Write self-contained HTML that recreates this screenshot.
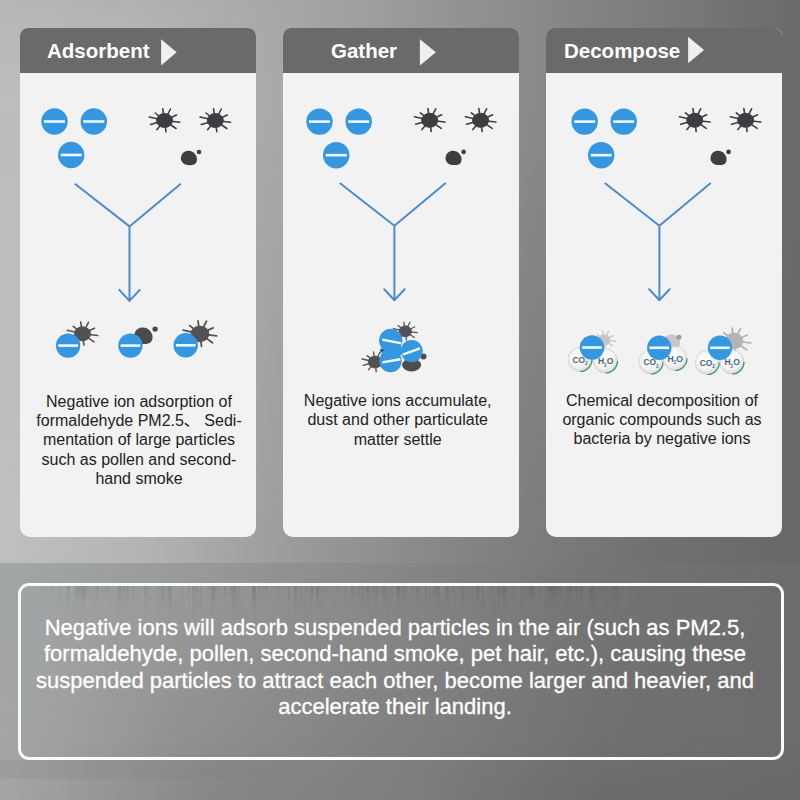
<!DOCTYPE html>
<html><head><meta charset="utf-8">
<style>
*{margin:0;padding:0;box-sizing:border-box}
html,body{width:800px;height:800px;overflow:hidden}
body{position:relative;font-family:"Liberation Sans",sans-serif;background:#888}
.bg{position:absolute;left:0;width:800px}
#bgA{top:0;height:563px;background:linear-gradient(90deg,rgb(189,189,189) 1.25%,rgb(183,183,183) 17.5%,rgb(170,170,170) 33.75%,rgb(154,154,154) 50%,rgb(138,138,138) 66.5%,rgb(123,123,123) 82.5%,rgb(107,107,107) 98.75%)}
#bgB{top:0;height:563px;background:linear-gradient(90deg,rgb(191,191,191) 1.25%,rgb(180,180,180) 17.5%,rgb(158,158,158) 33.75%,rgb(140,140,140) 50%,rgb(124,124,124) 66.5%,rgb(112,112,112) 82.5%,rgb(104,104,104) 98.75%);
-webkit-mask-image:linear-gradient(180deg,transparent 110px,#000 550px);mask-image:linear-gradient(180deg,transparent 110px,#000 550px)}
#bgC{top:563px;height:237px;background:linear-gradient(90deg,rgb(162,166,167) 1.25%,rgb(153,153,153) 25%,rgb(135,135,135) 50%,rgb(117,117,117) 75%,rgb(108,108,108) 99%)}
#bgD{top:563px;height:237px;background:linear-gradient(90deg,rgb(165,165,165) 1.25%,rgb(143,143,143) 25%,rgb(128,128,128) 50%,rgb(113,113,113) 75%,rgb(108,108,108) 99%);
-webkit-mask-image:linear-gradient(180deg,transparent 7px,#000 177px);mask-image:linear-gradient(180deg,transparent 7px,#000 177px)}
#bgE{top:740px;height:60px;background:linear-gradient(90deg,rgb(164,164,164) 1.25%,rgb(136,136,136) 25%,rgb(126,126,126) 50%,rgb(107,107,107) 75%,rgb(105,105,105) 99%);
-webkit-mask-image:linear-gradient(180deg,transparent 0,#000 50px);mask-image:linear-gradient(180deg,transparent 0,#000 50px)}
#bgT{top:0;height:100px;background:linear-gradient(90deg,rgba(0,0,0,.04),rgba(0,0,0,.03) 20%,rgba(0,0,0,0) 40%);-webkit-mask-image:linear-gradient(180deg,#000 0,rgba(0,0,0,.6) 15px,transparent 100px);mask-image:linear-gradient(180deg,#000 0,rgba(0,0,0,.6) 15px,transparent 100px)}
#bgF{top:760px;height:19px;background:linear-gradient(90deg,rgba(0,0,0,.05) 0,rgba(0,0,0,.03) 20%,rgba(0,0,0,0) 40%)}
.card{position:absolute;top:28px;width:236px;height:509px;border-radius:8px 8px 10px 10px;background:#f2f2f2;overflow:hidden}
.card .hd{height:45px;background:#6a6a6a;position:relative}
.card .hd span{position:absolute;top:0;line-height:45px;color:#fff;font-weight:bold;font-size:20.5px;padding-top:0}
.tri{position:absolute;width:0;height:0;border-top:12.5px solid transparent;border-bottom:12.5px solid transparent;border-left:16px solid #e6e6e6}
.txt{position:absolute;width:300px;text-align:center;font-size:16px;line-height:19.2px;color:#222;white-space:nowrap}
#box{position:absolute;left:18px;top:583px;width:766px;height:177px;border:3px solid #f6fdfd;border-radius:11px}
.stk{position:absolute;left:40px;top:586px;width:620px}
#btxt{position:absolute;left:-5px;top:614.8px;width:800px;text-align:center;color:#fff;font-size:22px;line-height:26.4px;-webkit-text-stroke:0.3px #fff;white-space:nowrap}
svg{position:absolute;left:0;top:0}
</style></head><body>
<div class="bg" id="bgA"></div><div class="bg" id="bgB"></div><div class="bg" id="bgC"></div><div class="bg" id="bgD"></div><div class="bg" id="bgE"></div><div class="bg" id="bgF"></div><div class="bg" id="bgT"></div>

<div class="card" style="left:20px"><div class="hd"><span style="left:27px">Adsorbent</span></div></div>
<div class="card" style="left:283px"><div class="hd"><span style="left:48px">Gather</span></div></div>
<div class="card" style="left:546px"><div class="hd"><span style="left:18px">Decompose</span></div></div>

<div class="txt" style="left:-11px;top:392px">Negative ion adsorption of<br>formaldehyde PM2.5<span style="display:inline-block;width:16px;height:10px;position:relative"><svg width="16" height="10" viewBox="0 0 16 10" style="position:absolute;left:0;top:0;overflow:visible"><path d="M1.4 7.6 L4.4 9.8" stroke="#222" stroke-width="1.6" stroke-linecap="round"/></svg></span> Sedi-<br>mentation of large particles<br>such as pollen and second-<br>hand smoke</div>
<div class="txt" style="left:247.7px;top:391.1px">Negative ions accumulate,<br>dust and other particulate<br>matter settle</div>
<div class="txt" style="left:512px;top:391px">Chemical decomposition of<br>organic compounds such as<br>bacteria by negative ions</div>

<div class="stk" style="height:14px;-webkit-mask-image:linear-gradient(180deg,#000 0,transparent 14px);mask-image:linear-gradient(180deg,#000 0,transparent 14px);background:linear-gradient(90deg,transparent 0.0px 2.9px,transparent 2.9px 6.7px,rgba(255,255,255,0.007) 6.7px 7.8px,transparent 7.8px 10.7px,rgba(0,0,0,0.013) 10.7px 12.1px,rgba(0,0,0,0.024) 12.1px 14.7px,rgba(255,255,255,0.014) 14.7px 16.4px,rgba(255,255,255,0.010) 16.4px 19.6px,rgba(0,0,0,0.031) 19.6px 21.1px,transparent 21.1px 22.1px,rgba(255,255,255,0.026) 22.1px 23.7px,rgba(255,255,255,0.027) 23.7px 27.3px,rgba(0,0,0,0.036) 27.3px 29.9px,rgba(255,255,255,0.034) 29.9px 33.8px,rgba(0,0,0,0.028) 33.8px 37.4px,rgba(0,0,0,0.067) 37.4px 38.9px,rgba(0,0,0,0.077) 38.9px 40.8px,rgba(0,0,0,0.040) 40.8px 43.9px,rgba(0,0,0,0.039) 43.9px 47.3px,rgba(0,0,0,0.073) 47.3px 49.8px,rgba(255,255,255,0.017) 49.8px 53.7px,rgba(255,255,255,0.022) 53.7px 57.2px,rgba(0,0,0,0.079) 57.2px 59.3px,rgba(255,255,255,0.044) 59.3px 60.5px,rgba(255,255,255,0.041) 60.5px 62.1px,rgba(0,0,0,0.034) 62.1px 65.9px,rgba(0,0,0,0.066) 65.9px 68.5px,rgba(255,255,255,0.032) 68.5px 71.7px,transparent 71.7px 72.8px,transparent 72.8px 74.1px,rgba(255,255,255,0.040) 74.1px 77.8px,rgba(0,0,0,0.039) 77.8px 80.5px,rgba(0,0,0,0.061) 80.5px 82.0px,transparent 82.0px 85.1px,rgba(255,255,255,0.048) 85.1px 86.6px,rgba(0,0,0,0.049) 86.6px 89.2px,transparent 89.2px 91.9px,rgba(0,0,0,0.073) 91.9px 94.3px,rgba(0,0,0,0.016) 94.3px 98.1px,rgba(255,255,255,0.015) 98.1px 101.6px,rgba(255,255,255,0.022) 101.6px 105.4px,rgba(0,0,0,0.061) 105.4px 106.7px,rgba(0,0,0,0.021) 106.7px 110.3px,transparent 110.3px 114.3px,rgba(0,0,0,0.017) 114.3px 118.2px,rgba(0,0,0,0.042) 118.2px 121.4px,rgba(0,0,0,0.031) 121.4px 123.6px,transparent 123.6px 127.6px,rgba(0,0,0,0.036) 127.6px 130.5px,rgba(255,255,255,0.022) 130.5px 131.7px,rgba(255,255,255,0.022) 131.7px 135.3px,rgba(255,255,255,0.006) 135.3px 138.6px,rgba(255,255,255,0.012) 138.6px 141.9px,rgba(255,255,255,0.020) 141.9px 143.8px,rgba(255,255,255,0.043) 143.8px 146.8px,rgba(0,0,0,0.078) 146.8px 149.8px,rgba(255,255,255,0.007) 149.8px 152.4px,transparent 152.4px 154.8px,rgba(0,0,0,0.035) 154.8px 157.8px,rgba(255,255,255,0.028) 157.8px 160.7px,transparent 160.7px 162.7px,rgba(255,255,255,0.047) 162.7px 166.4px,rgba(0,0,0,0.011) 166.4px 170.2px,transparent 170.2px 171.7px,rgba(255,255,255,0.010) 171.7px 175.5px,rgba(0,0,0,0.058) 175.5px 178.7px,rgba(255,255,255,0.007) 178.7px 182.0px,rgba(255,255,255,0.021) 182.0px 184.3px,rgba(0,0,0,0.076) 184.3px 187.2px,transparent 187.2px 188.7px,transparent 188.7px 190.3px,rgba(0,0,0,0.051) 190.3px 191.5px,rgba(0,0,0,0.039) 191.5px 192.6px,rgba(0,0,0,0.075) 192.6px 194.2px,transparent 194.2px 196.6px,rgba(255,255,255,0.037) 196.6px 199.3px,rgba(0,0,0,0.044) 199.3px 200.3px,rgba(255,255,255,0.028) 200.3px 202.6px,transparent 202.6px 204.7px,rgba(0,0,0,0.036) 204.7px 206.0px,transparent 206.0px 208.7px,rgba(255,255,255,0.026) 208.7px 212.2px,rgba(0,0,0,0.062) 212.2px 215.1px,rgba(255,255,255,0.044) 215.1px 217.9px,rgba(0,0,0,0.034) 217.9px 221.8px,rgba(0,0,0,0.066) 221.8px 225.5px,rgba(0,0,0,0.062) 225.5px 228.2px,transparent 228.2px 231.1px,rgba(0,0,0,0.051) 231.1px 233.2px,transparent 233.2px 235.1px,transparent 235.1px 237.2px,rgba(0,0,0,0.046) 237.2px 240.9px,rgba(0,0,0,0.026) 240.9px 244.9px,transparent 244.9px 246.8px,rgba(0,0,0,0.018) 246.8px 249.3px,rgba(0,0,0,0.022) 249.3px 250.7px,rgba(255,255,255,0.027) 250.7px 252.6px,rgba(0,0,0,0.044) 252.6px 253.6px,rgba(0,0,0,0.048) 253.6px 257.4px,rgba(255,255,255,0.049) 257.4px 259.2px,rgba(0,0,0,0.018) 259.2px 261.1px,rgba(255,255,255,0.017) 261.1px 264.0px,rgba(0,0,0,0.041) 264.0px 265.4px,rgba(0,0,0,0.041) 265.4px 268.0px,rgba(0,0,0,0.033) 268.0px 270.6px,rgba(0,0,0,0.075) 270.6px 273.8px,rgba(255,255,255,0.039) 273.8px 275.6px,rgba(0,0,0,0.078) 275.6px 279.2px,rgba(0,0,0,0.005) 279.2px 282.6px,rgba(0,0,0,0.017) 282.6px 285.7px,rgba(0,0,0,0.029) 285.7px 289.4px,rgba(0,0,0,0.041) 289.4px 293.0px,rgba(255,255,255,0.029) 293.0px 296.5px,rgba(0,0,0,0.043) 296.5px 299.6px,transparent 299.6px 302.9px,rgba(0,0,0,0.009) 302.9px 304.3px,rgba(0,0,0,0.060) 304.3px 306.8px,transparent 306.8px 309.6px,rgba(255,255,255,0.027) 309.6px 310.8px,rgba(0,0,0,0.077) 310.8px 314.2px,transparent 314.2px 317.3px,rgba(0,0,0,0.074) 317.3px 321.3px,transparent 321.3px 324.8px,rgba(0,0,0,0.062) 324.8px 328.7px,transparent 328.7px 330.6px,rgba(0,0,0,0.026) 330.6px 332.0px,rgba(0,0,0,0.074) 332.0px 333.5px,rgba(0,0,0,0.071) 333.5px 334.8px,rgba(255,255,255,0.017) 334.8px 336.0px,rgba(0,0,0,0.024) 336.0px 339.6px,rgba(0,0,0,0.016) 339.6px 341.6px,rgba(0,0,0,0.073) 341.6px 345.4px,transparent 345.4px 348.5px,transparent 348.5px 351.0px,rgba(0,0,0,0.046) 351.0px 353.7px,rgba(255,255,255,0.018) 353.7px 356.3px,rgba(0,0,0,0.050) 356.3px 358.9px,rgba(0,0,0,0.057) 358.9px 361.0px,rgba(0,0,0,0.069) 361.0px 364.1px,rgba(0,0,0,0.064) 364.1px 367.1px,rgba(255,255,255,0.034) 367.1px 369.9px,rgba(255,255,255,0.024) 369.9px 372.4px,rgba(0,0,0,0.073) 372.4px 373.5px,transparent 373.5px 374.9px,rgba(0,0,0,0.065) 374.9px 377.9px,rgba(255,255,255,0.027) 377.9px 381.9px,rgba(0,0,0,0.034) 381.9px 383.3px,transparent 383.3px 385.0px,rgba(0,0,0,0.062) 385.0px 387.0px,rgba(255,255,255,0.025) 387.0px 390.5px,transparent 390.5px 392.8px,rgba(0,0,0,0.005) 392.8px 395.4px,rgba(0,0,0,0.067) 395.4px 398.6px,rgba(0,0,0,0.075) 398.6px 399.7px,rgba(255,255,255,0.019) 399.7px 403.4px,rgba(255,255,255,0.036) 403.4px 404.4px,rgba(0,0,0,0.019) 404.4px 407.2px,rgba(0,0,0,0.059) 407.2px 408.5px,rgba(255,255,255,0.034) 408.5px 410.7px,rgba(0,0,0,0.044) 410.7px 412.1px,rgba(0,0,0,0.049) 412.1px 413.6px,rgba(255,255,255,0.040) 413.6px 416.0px,transparent 416.0px 418.1px,rgba(0,0,0,0.019) 418.1px 421.2px,rgba(255,255,255,0.007) 421.2px 425.0px,rgba(255,255,255,0.015) 425.0px 426.9px,rgba(0,0,0,0.077) 426.9px 428.4px,rgba(0,0,0,0.028) 428.4px 430.1px,rgba(0,0,0,0.039) 430.1px 434.0px,rgba(255,255,255,0.015) 434.0px 436.4px,rgba(0,0,0,0.049) 436.4px 439.6px,transparent 439.6px 442.6px,rgba(255,255,255,0.047) 442.6px 445.5px,rgba(255,255,255,0.021) 445.5px 446.6px,rgba(0,0,0,0.009) 446.6px 448.8px,rgba(0,0,0,0.034) 448.8px 452.8px,rgba(255,255,255,0.037) 452.8px 454.0px,transparent 454.0px 456.5px,rgba(0,0,0,0.073) 456.5px 457.7px,rgba(0,0,0,0.047) 457.7px 459.9px,rgba(0,0,0,0.073) 459.9px 462.1px,transparent 462.1px 463.2px,rgba(0,0,0,0.028) 463.2px 464.7px,rgba(0,0,0,0.039) 464.7px 467.3px,rgba(255,255,255,0.040) 467.3px 468.7px,transparent 468.7px 471.4px,rgba(0,0,0,0.010) 471.4px 473.1px,rgba(0,0,0,0.031) 473.1px 475.6px,rgba(255,255,255,0.039) 475.6px 478.4px,rgba(255,255,255,0.027) 478.4px 480.3px,rgba(0,0,0,0.039) 480.3px 482.0px,rgba(255,255,255,0.027) 482.0px 483.3px,rgba(0,0,0,0.069) 483.3px 485.2px,rgba(0,0,0,0.024) 485.2px 487.0px,rgba(0,0,0,0.072) 487.0px 489.7px,rgba(0,0,0,0.054) 489.7px 492.8px,rgba(0,0,0,0.067) 492.8px 494.6px,rgba(255,255,255,0.018) 494.6px 496.9px,transparent 496.9px 499.6px,rgba(0,0,0,0.005) 499.6px 502.5px,transparent 502.5px 504.9px,transparent 504.9px 507.8px,rgba(0,0,0,0.045) 507.8px 511.0px,rgba(0,0,0,0.063) 511.0px 514.5px,rgba(0,0,0,0.046) 514.5px 515.7px,rgba(0,0,0,0.072) 515.7px 518.7px,rgba(0,0,0,0.076) 518.7px 522.0px,rgba(0,0,0,0.034) 522.0px 523.1px,transparent 523.1px 526.7px,rgba(0,0,0,0.024) 526.7px 529.5px,rgba(0,0,0,0.078) 529.5px 531.6px,transparent 531.6px 534.4px,rgba(0,0,0,0.011) 534.4px 537.6px,rgba(0,0,0,0.022) 537.6px 539.1px,rgba(0,0,0,0.065) 539.1px 542.9px,transparent 542.9px 544.8px,rgba(0,0,0,0.021) 544.8px 547.2px,transparent 547.2px 550.5px,transparent 550.5px 553.1px,rgba(255,255,255,0.022) 553.1px 555.9px,rgba(255,255,255,0.038) 555.9px 558.2px,rgba(0,0,0,0.013) 558.2px 559.3px,rgba(0,0,0,0.039) 559.3px 562.9px,transparent 562.9px 564.7px,rgba(0,0,0,0.034) 564.7px 566.8px,rgba(255,255,255,0.032) 566.8px 568.9px,transparent 568.9px 572.4px,rgba(0,0,0,0.037) 572.4px 575.2px,rgba(0,0,0,0.042) 575.2px 578.7px,rgba(255,255,255,0.007) 578.7px 580.2px,rgba(255,255,255,0.012) 580.2px 583.9px,rgba(255,255,255,0.015) 583.9px 585.9px,transparent 585.9px 588.8px,rgba(0,0,0,0.005) 588.8px 590.9px,rgba(0,0,0,0.011) 590.9px 593.7px,rgba(0,0,0,0.013) 593.7px 595.6px,transparent 595.6px 597.8px,transparent 597.8px 600.0px,transparent 600.0px 603.4px,transparent 603.4px 606.5px,transparent 606.5px 609.9px,rgba(0,0,0,0.005) 609.9px 612.9px,transparent 612.9px 614.2px,transparent 614.2px 616.9px,transparent 616.9px 618.8px,transparent 618.8px 620.7px)"></div><div class="stk" style="height:24px;-webkit-mask-image:linear-gradient(180deg,#000 0,transparent 24px);mask-image:linear-gradient(180deg,#000 0,transparent 24px);background:linear-gradient(90deg,transparent 0.0px 3.3px,transparent 3.3px 7.1px,transparent 7.1px 10.2px,transparent 10.2px 13.4px,transparent 13.4px 15.0px,rgba(255,255,255,0.014) 15.0px 18.7px,rgba(0,0,0,0.033) 18.7px 21.4px,transparent 21.4px 23.5px,transparent 23.5px 27.2px,rgba(0,0,0,0.039) 27.2px 30.1px,transparent 30.1px 33.1px,rgba(255,255,255,0.023) 33.1px 36.3px,rgba(0,0,0,0.037) 36.3px 37.9px,transparent 37.9px 40.8px,transparent 40.8px 42.3px,rgba(0,0,0,0.063) 42.3px 45.6px,transparent 45.6px 48.3px,transparent 48.3px 51.9px,rgba(0,0,0,0.012) 51.9px 54.2px,rgba(0,0,0,0.039) 54.2px 57.9px,transparent 57.9px 60.7px,rgba(0,0,0,0.057) 60.7px 62.3px,transparent 62.3px 64.9px,transparent 64.9px 66.5px,transparent 66.5px 69.4px,rgba(0,0,0,0.017) 69.4px 72.6px,transparent 72.6px 76.1px,transparent 76.1px 78.1px,transparent 78.1px 81.0px,transparent 81.0px 82.7px,rgba(0,0,0,0.059) 82.7px 86.2px,rgba(0,0,0,0.060) 86.2px 87.8px,transparent 87.8px 89.3px,transparent 89.3px 90.6px,transparent 90.6px 93.8px,transparent 93.8px 97.2px,transparent 97.2px 101.0px,transparent 101.0px 103.8px,rgba(0,0,0,0.063) 103.8px 105.2px,rgba(0,0,0,0.020) 105.2px 106.8px,transparent 106.8px 109.8px,rgba(0,0,0,0.010) 109.8px 111.1px,transparent 111.1px 113.2px,transparent 113.2px 115.3px,transparent 115.3px 117.8px,rgba(255,255,255,0.014) 117.8px 121.6px,rgba(0,0,0,0.057) 121.6px 124.8px,rgba(255,255,255,0.011) 124.8px 127.2px,rgba(0,0,0,0.038) 127.2px 131.0px,transparent 131.0px 133.5px,transparent 133.5px 136.9px,rgba(255,255,255,0.023) 136.9px 138.7px,rgba(0,0,0,0.024) 138.7px 141.3px,transparent 141.3px 143.0px,rgba(0,0,0,0.059) 143.0px 144.2px,transparent 144.2px 146.7px,rgba(255,255,255,0.033) 146.7px 149.3px,rgba(255,255,255,0.019) 149.3px 150.6px,transparent 150.6px 151.6px,rgba(0,0,0,0.042) 151.6px 153.7px,rgba(0,0,0,0.013) 153.7px 156.0px,rgba(255,255,255,0.037) 156.0px 157.2px,rgba(0,0,0,0.061) 157.2px 159.5px,transparent 159.5px 161.4px,transparent 161.4px 164.4px,rgba(255,255,255,0.016) 164.4px 165.6px,transparent 165.6px 167.9px,transparent 167.9px 171.6px,rgba(0,0,0,0.067) 171.6px 174.5px,rgba(255,255,255,0.026) 174.5px 177.8px,transparent 177.8px 181.3px,transparent 181.3px 183.4px,transparent 183.4px 186.7px,transparent 186.7px 188.1px,transparent 188.1px 190.4px,rgba(0,0,0,0.024) 190.4px 194.4px,rgba(0,0,0,0.038) 194.4px 196.2px,rgba(0,0,0,0.051) 196.2px 199.2px,rgba(0,0,0,0.028) 199.2px 201.6px,transparent 201.6px 205.3px,rgba(255,255,255,0.021) 205.3px 206.9px,transparent 206.9px 210.7px,rgba(255,255,255,0.031) 210.7px 212.2px,rgba(0,0,0,0.050) 212.2px 216.0px,rgba(255,255,255,0.013) 216.0px 218.3px,transparent 218.3px 220.4px,transparent 220.4px 221.8px,transparent 221.8px 225.7px,transparent 225.7px 227.0px,rgba(0,0,0,0.017) 227.0px 229.1px,transparent 229.1px 231.9px,transparent 231.9px 233.6px,transparent 233.6px 235.4px,rgba(0,0,0,0.017) 235.4px 238.6px,rgba(255,255,255,0.015) 238.6px 241.7px,transparent 241.7px 244.0px,transparent 244.0px 246.8px,transparent 246.8px 248.0px,rgba(0,0,0,0.032) 248.0px 249.1px,rgba(0,0,0,0.020) 249.1px 250.1px,transparent 250.1px 253.1px,transparent 253.1px 255.2px,transparent 255.2px 258.4px,transparent 258.4px 262.2px,rgba(255,255,255,0.033) 262.2px 264.1px,rgba(255,255,255,0.011) 264.1px 265.4px,rgba(255,255,255,0.032) 265.4px 267.9px,transparent 267.9px 269.8px,rgba(0,0,0,0.031) 269.8px 273.3px,transparent 273.3px 275.8px,rgba(0,0,0,0.063) 275.8px 277.4px,rgba(0,0,0,0.054) 277.4px 278.7px,rgba(0,0,0,0.040) 278.7px 282.6px,transparent 282.6px 285.9px,transparent 285.9px 287.7px,transparent 287.7px 290.6px,rgba(255,255,255,0.026) 290.6px 292.3px,transparent 292.3px 294.7px,rgba(0,0,0,0.064) 294.7px 296.2px,transparent 296.2px 299.4px,rgba(255,255,255,0.021) 299.4px 300.4px,transparent 300.4px 302.9px,transparent 302.9px 304.0px,transparent 304.0px 305.4px,transparent 305.4px 308.2px,transparent 308.2px 309.9px,rgba(255,255,255,0.005) 309.9px 311.2px,rgba(0,0,0,0.019) 311.2px 312.5px,transparent 312.5px 315.5px,transparent 315.5px 318.6px,rgba(255,255,255,0.013) 318.6px 322.1px,rgba(0,0,0,0.070) 322.1px 323.9px,transparent 323.9px 327.2px,rgba(0,0,0,0.053) 327.2px 330.9px,rgba(255,255,255,0.034) 330.9px 332.6px,rgba(0,0,0,0.031) 332.6px 334.2px,transparent 334.2px 335.4px,rgba(0,0,0,0.055) 335.4px 338.4px,transparent 338.4px 340.8px,transparent 340.8px 343.2px,rgba(0,0,0,0.041) 343.2px 346.9px,transparent 346.9px 349.4px,transparent 349.4px 353.1px,rgba(255,255,255,0.016) 353.1px 356.1px,rgba(0,0,0,0.058) 356.1px 359.6px,rgba(255,255,255,0.028) 359.6px 361.4px,transparent 361.4px 363.2px,transparent 363.2px 366.1px,transparent 366.1px 367.4px,transparent 367.4px 369.4px,transparent 369.4px 373.0px,transparent 373.0px 374.1px,transparent 374.1px 376.3px,rgba(0,0,0,0.025) 376.3px 379.4px,rgba(0,0,0,0.063) 379.4px 381.4px,rgba(255,255,255,0.026) 381.4px 384.6px,rgba(0,0,0,0.050) 384.6px 385.8px,transparent 385.8px 389.6px,transparent 389.6px 393.3px,rgba(0,0,0,0.045) 393.3px 394.6px,transparent 394.6px 395.7px,rgba(0,0,0,0.014) 395.7px 397.6px,transparent 397.6px 401.4px,rgba(255,255,255,0.015) 401.4px 403.8px,transparent 403.8px 405.1px,transparent 405.1px 406.3px,rgba(0,0,0,0.040) 406.3px 409.0px,transparent 409.0px 411.6px,rgba(0,0,0,0.013) 411.6px 413.9px,transparent 413.9px 417.7px,rgba(255,255,255,0.019) 417.7px 421.4px,rgba(0,0,0,0.064) 421.4px 424.0px,rgba(0,0,0,0.021) 424.0px 427.8px,transparent 427.8px 431.6px,rgba(255,255,255,0.012) 431.6px 434.1px,rgba(255,255,255,0.013) 434.1px 435.8px,rgba(0,0,0,0.048) 435.8px 438.7px,transparent 438.7px 441.7px,transparent 441.7px 443.1px,rgba(0,0,0,0.060) 443.1px 444.5px,transparent 444.5px 446.8px,rgba(255,255,255,0.007) 446.8px 450.4px,transparent 450.4px 451.7px,rgba(0,0,0,0.064) 451.7px 453.4px,rgba(255,255,255,0.014) 453.4px 456.6px,transparent 456.6px 458.6px,rgba(255,255,255,0.026) 458.6px 461.5px,rgba(0,0,0,0.033) 461.5px 465.3px,rgba(0,0,0,0.024) 465.3px 468.9px,transparent 468.9px 471.2px,transparent 471.2px 472.5px,transparent 472.5px 475.8px,transparent 475.8px 476.8px,transparent 476.8px 478.8px,rgba(255,255,255,0.022) 478.8px 481.7px,rgba(255,255,255,0.011) 481.7px 484.8px,transparent 484.8px 487.3px,transparent 487.3px 490.1px,rgba(0,0,0,0.070) 490.1px 491.6px,transparent 491.6px 495.0px,rgba(0,0,0,0.011) 495.0px 498.5px,rgba(0,0,0,0.048) 498.5px 500.9px,transparent 500.9px 504.8px,transparent 504.8px 506.6px,transparent 506.6px 509.5px,rgba(0,0,0,0.069) 509.5px 511.2px,transparent 511.2px 514.2px,transparent 514.2px 517.4px,rgba(255,255,255,0.011) 517.4px 519.7px,transparent 519.7px 521.8px,rgba(255,255,255,0.005) 521.8px 525.1px,rgba(255,255,255,0.022) 525.1px 526.3px,rgba(0,0,0,0.068) 526.3px 527.7px,rgba(0,0,0,0.020) 527.7px 531.0px,transparent 531.0px 533.3px,transparent 533.3px 535.8px,transparent 535.8px 536.8px,transparent 536.8px 540.1px,transparent 540.1px 543.6px,transparent 543.6px 546.8px,rgba(255,255,255,0.025) 546.8px 549.6px,rgba(0,0,0,0.055) 549.6px 553.6px,rgba(0,0,0,0.024) 553.6px 555.6px,rgba(0,0,0,0.056) 555.6px 556.9px,rgba(255,255,255,0.008) 556.9px 559.2px,rgba(255,255,255,0.027) 559.2px 561.4px,transparent 561.4px 565.0px,rgba(0,0,0,0.014) 565.0px 566.7px,rgba(0,0,0,0.013) 566.7px 568.9px,transparent 568.9px 572.2px,transparent 572.2px 575.8px,transparent 575.8px 579.1px,transparent 579.1px 582.8px,transparent 582.8px 585.1px,transparent 585.1px 588.1px,rgba(0,0,0,0.020) 588.1px 591.2px,transparent 591.2px 593.2px,transparent 593.2px 596.5px,rgba(0,0,0,0.018) 596.5px 600.0px,rgba(0,0,0,0.014) 600.0px 602.8px,rgba(0,0,0,0.012) 602.8px 604.7px,rgba(0,0,0,0.013) 604.7px 607.0px,transparent 607.0px 609.6px,transparent 609.6px 613.1px,rgba(0,0,0,0.006) 613.1px 614.4px,transparent 614.4px 615.5px,transparent 615.5px 618.8px,transparent 618.8px 621.2px)"></div><div class="stk" style="height:38px;-webkit-mask-image:linear-gradient(180deg,#000 0,transparent 38px);mask-image:linear-gradient(180deg,#000 0,transparent 38px);background:linear-gradient(90deg,transparent 0.0px 2.8px,transparent 2.8px 4.3px,transparent 4.3px 6.7px,transparent 6.7px 8.3px,transparent 8.3px 9.6px,transparent 9.6px 11.2px,transparent 11.2px 14.0px,transparent 14.0px 16.2px,transparent 16.2px 19.8px,transparent 19.8px 21.7px,transparent 21.7px 23.1px,transparent 23.1px 24.3px,transparent 24.3px 28.1px,transparent 28.1px 29.2px,transparent 29.2px 31.6px,rgba(0,0,0,0.015) 31.6px 33.1px,transparent 33.1px 34.3px,rgba(0,0,0,0.044) 34.3px 36.0px,transparent 36.0px 37.9px,rgba(0,0,0,0.027) 37.9px 39.8px,rgba(0,0,0,0.029) 39.8px 43.6px,transparent 43.6px 45.3px,rgba(255,255,255,0.018) 45.3px 47.6px,transparent 47.6px 49.6px,transparent 49.6px 52.0px,rgba(0,0,0,0.034) 52.0px 53.2px,transparent 53.2px 55.0px,transparent 55.0px 57.5px,transparent 57.5px 60.0px,transparent 60.0px 62.7px,transparent 62.7px 65.7px,transparent 65.7px 67.9px,transparent 67.9px 69.3px,transparent 69.3px 72.9px,transparent 72.9px 75.0px,rgba(0,0,0,0.020) 75.0px 77.8px,rgba(0,0,0,0.050) 77.8px 81.0px,transparent 81.0px 84.2px,transparent 84.2px 85.4px,transparent 85.4px 87.3px,transparent 87.3px 88.4px,transparent 88.4px 89.9px,transparent 89.9px 93.0px,transparent 93.0px 96.5px,transparent 96.5px 99.4px,transparent 99.4px 100.9px,transparent 100.9px 102.9px,transparent 102.9px 104.2px,transparent 104.2px 106.3px,transparent 106.3px 110.2px,transparent 110.2px 112.3px,rgba(255,255,255,0.007) 112.3px 116.3px,transparent 116.3px 119.5px,rgba(0,0,0,0.023) 119.5px 121.3px,transparent 121.3px 125.1px,transparent 125.1px 126.9px,transparent 126.9px 129.2px,rgba(0,0,0,0.057) 129.2px 131.6px,transparent 131.6px 135.0px,transparent 135.0px 136.8px,transparent 136.8px 139.5px,transparent 139.5px 143.2px,transparent 143.2px 145.1px,rgba(255,255,255,0.024) 145.1px 148.0px,transparent 148.0px 149.1px,transparent 149.1px 150.9px,rgba(255,255,255,0.029) 150.9px 152.0px,rgba(0,0,0,0.019) 152.0px 155.4px,rgba(0,0,0,0.043) 155.4px 156.5px,transparent 156.5px 160.5px,rgba(0,0,0,0.050) 160.5px 162.2px,transparent 162.2px 166.2px,transparent 166.2px 170.0px,rgba(0,0,0,0.045) 170.0px 173.3px,rgba(0,0,0,0.044) 173.3px 175.1px,transparent 175.1px 178.3px,transparent 178.3px 179.3px,transparent 179.3px 182.9px,transparent 182.9px 186.0px,transparent 186.0px 189.8px,transparent 189.8px 191.9px,rgba(0,0,0,0.037) 191.9px 193.8px,rgba(0,0,0,0.053) 193.8px 196.1px,transparent 196.1px 197.9px,transparent 197.9px 201.8px,transparent 201.8px 205.3px,transparent 205.3px 208.0px,transparent 208.0px 210.2px,transparent 210.2px 213.1px,rgba(0,0,0,0.047) 213.1px 216.5px,transparent 216.5px 217.5px,rgba(0,0,0,0.033) 217.5px 219.2px,transparent 219.2px 220.9px,rgba(255,255,255,0.006) 220.9px 223.6px,transparent 223.6px 225.3px,transparent 225.3px 226.6px,transparent 226.6px 229.7px,transparent 229.7px 232.2px,transparent 232.2px 235.1px,rgba(0,0,0,0.018) 235.1px 236.3px,rgba(255,255,255,0.007) 236.3px 239.0px,transparent 239.0px 241.0px,transparent 241.0px 243.6px,transparent 243.6px 245.5px,transparent 245.5px 248.3px,rgba(0,0,0,0.018) 248.3px 250.2px,transparent 250.2px 253.0px,transparent 253.0px 254.4px,rgba(0,0,0,0.051) 254.4px 257.1px,rgba(0,0,0,0.015) 257.1px 260.9px,rgba(0,0,0,0.036) 260.9px 262.8px,transparent 262.8px 264.3px,rgba(0,0,0,0.028) 264.3px 268.0px,transparent 268.0px 271.1px,rgba(0,0,0,0.035) 271.1px 272.1px,transparent 272.1px 275.8px,transparent 275.8px 277.6px,transparent 277.6px 280.1px,transparent 280.1px 283.2px,transparent 283.2px 285.8px,transparent 285.8px 289.7px,transparent 289.7px 290.8px,transparent 290.8px 293.8px,transparent 293.8px 296.9px,transparent 296.9px 299.7px,transparent 299.7px 302.7px,transparent 302.7px 305.9px,transparent 305.9px 309.0px,rgba(255,255,255,0.008) 309.0px 311.8px,transparent 311.8px 313.5px,transparent 313.5px 316.1px,transparent 316.1px 319.4px,transparent 319.4px 323.2px,transparent 323.2px 325.9px,transparent 325.9px 327.9px,rgba(255,255,255,0.010) 327.9px 331.7px,transparent 331.7px 334.7px,transparent 334.7px 338.1px,transparent 338.1px 339.5px,transparent 339.5px 342.3px,transparent 342.3px 346.2px,rgba(0,0,0,0.022) 346.2px 349.7px,transparent 349.7px 353.4px,transparent 353.4px 356.7px,transparent 356.7px 360.0px,transparent 360.0px 363.0px,transparent 363.0px 366.6px,transparent 366.6px 370.5px,transparent 370.5px 373.0px,rgba(255,255,255,0.026) 373.0px 375.7px,transparent 375.7px 377.7px,rgba(255,255,255,0.024) 377.7px 378.8px,rgba(255,255,255,0.013) 378.8px 380.6px,transparent 380.6px 382.3px,transparent 382.3px 385.0px,transparent 385.0px 387.5px,transparent 387.5px 389.3px,rgba(0,0,0,0.047) 389.3px 390.3px,transparent 390.3px 392.2px,transparent 392.2px 396.0px,transparent 396.0px 397.8px,rgba(0,0,0,0.013) 397.8px 400.2px,rgba(255,255,255,0.011) 400.2px 402.0px,transparent 402.0px 403.3px,transparent 403.3px 406.6px,transparent 406.6px 410.2px,rgba(255,255,255,0.021) 410.2px 414.1px,rgba(0,0,0,0.037) 414.1px 416.4px,transparent 416.4px 420.3px,transparent 420.3px 423.5px,transparent 423.5px 424.6px,transparent 424.6px 427.0px,rgba(255,255,255,0.029) 427.0px 430.7px,transparent 430.7px 433.3px,transparent 433.3px 434.6px,transparent 434.6px 437.2px,transparent 437.2px 439.1px,transparent 439.1px 441.5px,rgba(0,0,0,0.022) 441.5px 444.8px,rgba(255,255,255,0.030) 444.8px 446.2px,transparent 446.2px 449.0px,transparent 449.0px 452.0px,transparent 452.0px 454.6px,rgba(0,0,0,0.049) 454.6px 456.0px,transparent 456.0px 458.3px,rgba(0,0,0,0.032) 458.3px 460.3px,rgba(255,255,255,0.017) 460.3px 462.7px,rgba(0,0,0,0.052) 462.7px 465.2px,transparent 465.2px 468.9px,transparent 468.9px 470.7px,transparent 470.7px 471.9px,transparent 471.9px 475.7px,transparent 475.7px 476.8px,transparent 476.8px 480.4px,rgba(0,0,0,0.054) 480.4px 482.0px,rgba(0,0,0,0.020) 482.0px 484.5px,transparent 484.5px 488.2px,transparent 488.2px 490.7px,transparent 490.7px 492.1px,transparent 492.1px 495.7px,rgba(255,255,255,0.028) 495.7px 499.4px,transparent 499.4px 501.3px,transparent 501.3px 504.8px,rgba(0,0,0,0.035) 504.8px 508.0px,transparent 508.0px 511.0px,rgba(0,0,0,0.029) 511.0px 514.0px,rgba(0,0,0,0.040) 514.0px 516.1px,transparent 516.1px 518.6px,transparent 518.6px 520.4px,transparent 520.4px 524.3px,transparent 524.3px 527.5px,transparent 527.5px 528.6px,rgba(255,255,255,0.007) 528.6px 529.9px,transparent 529.9px 533.2px,transparent 533.2px 535.6px,rgba(0,0,0,0.040) 535.6px 537.9px,rgba(255,255,255,0.026) 537.9px 539.2px,transparent 539.2px 543.1px,rgba(255,255,255,0.010) 543.1px 545.3px,rgba(255,255,255,0.018) 545.3px 547.8px,rgba(0,0,0,0.017) 547.8px 551.6px,transparent 551.6px 553.2px,rgba(0,0,0,0.027) 553.2px 555.3px,transparent 555.3px 558.1px,transparent 558.1px 560.6px,transparent 560.6px 563.0px,transparent 563.0px 565.3px,transparent 565.3px 569.1px,transparent 569.1px 571.9px,rgba(0,0,0,0.014) 571.9px 575.0px,transparent 575.0px 576.5px,rgba(0,0,0,0.031) 576.5px 578.5px,transparent 578.5px 579.5px,transparent 579.5px 581.6px,transparent 581.6px 584.6px,rgba(255,255,255,0.013) 584.6px 587.7px,transparent 587.7px 589.3px,rgba(255,255,255,0.008) 589.3px 592.2px,transparent 592.2px 595.1px,transparent 595.1px 596.5px,transparent 596.5px 598.3px,transparent 598.3px 601.5px,transparent 601.5px 603.3px,transparent 603.3px 607.3px,transparent 607.3px 609.7px,rgba(0,0,0,0.007) 609.7px 612.7px,transparent 612.7px 614.0px,transparent 614.0px 616.8px,transparent 616.8px 619.6px,transparent 619.6px 623.6px)"></div><div id="box"></div>
<div id="btxt">Negative ions will adsorb suspended particles in the air (such as PM2.5,<br>formaldehyde, pollen, second-hand smoke, pet hair, etc.), causing these<br>suspended particles to attract each other, become larger and heavier, and<br>accelerate their landing.</div>

<svg width="800" height="800" viewBox="0 0 800 800">
<defs>
<g id="ion"><circle r="13.2" fill="#3597df"/><rect x="-10.5" y="-1.3" width="21" height="2.6" fill="#f4fbff"/></g>
<g id="ion2"><circle r="12.2" fill="#3597df"/><rect x="-9.8" y="-1.3" width="19.6" height="2.6" fill="#effdff"/></g>
<g id="bugp"><ellipse rx="8" ry="7"/>
<path stroke-width="1.6" stroke-linecap="round" d="M0 0L-1.75 -11.75M0 0L6 -11.5M0 0L12 -5.5M0 0L15.25 1.75M0 0L11.5 8M0 0L1.5 11.25M0 0L-7.75 9.25M0 0L-14 4M0 0L-15.25 -3.5M0 0L-9.25 -7.5"/></g>
<g id="bug" fill="#3d3d42" stroke="#3d3d42"><use href="#bugp"/></g>
<g id="bug2" fill="#525254" stroke="#525254"><use href="#bugp"/></g>
<path id="blobp" d="M-7.5 -2 C-6 -7 2 -8.5 5.5 -4 C8.5 -1 9 4 6 6.5 C2 8.5 -4 8 -6.5 5 C-8.5 3 -8.5 0 -7.5 -2Z"/>
<g id="blob" fill="#3d3d42"><use href="#blobp"/><circle cx="10" cy="-5.5" r="2.3"/></g>
<g id="ya" fill="none" stroke="#4b8dcc" stroke-width="2" stroke-linecap="round" stroke-linejoin="round">
<path d="M-54 -42.2L0 0L50.7 -42.2M0 0V74.5M-10.2 63.5L0 74.5L10.2 63.5"/></g>
<radialGradient id="bub" cx="0.45" cy="0.4" r="0.6"><stop offset="0" stop-color="#ffffff"/><stop offset="0.7" stop-color="#f1f1f1"/><stop offset="1" stop-color="#d6d6d6"/></radialGradient>
<g id="co2"><circle r="12" fill="url(#bub)" stroke="#cfcfcf" stroke-width="0.8"/><path d="M12 0A12 12 0 0 1 0 12" fill="none" stroke="#3a9a55" stroke-width="1.2"/>
<text x="-7.6" y="3.2" font-family="Liberation Sans" font-weight="bold" font-size="8.4" fill="#4a6682">CO</text><text x="5" y="5.6" font-family="Liberation Sans" font-weight="bold" font-size="4.6" fill="#4a6682">2</text></g>
<g id="h2o"><circle r="12" fill="url(#bub)" stroke="#cfcfcf" stroke-width="0.8"/><path d="M12 0A12 12 0 0 1 0 12" fill="none" stroke="#3a9a55" stroke-width="1.2"/>
<text x="-7.6" y="3.4" font-family="Liberation Sans" font-weight="bold" font-size="8.6" fill="#4a6682">H</text><text x="-1.6" y="5.6" font-family="Liberation Sans" font-weight="bold" font-size="4.6" fill="#4a6682">2</text><text x="1.2" y="3.4" font-family="Liberation Sans" font-weight="bold" font-size="8.6" fill="#4a6682">O</text></g>
</defs>
<g fill="#efefef"><polygon points="161.1,39.2 176.6,52.3 161.1,65.6"/><polygon points="419.9,39.2 435.9,52.3 419.9,65.6"/><polygon points="688.1,36.7 704.1,50 688.1,63.2"/></g>
<!-- card 1 -->
<use href="#ion" x="54.5" y="121.5"/><use href="#ion" x="93.8" y="121.5"/><use href="#ion" x="71.2" y="155"/>
<use href="#bug" x="164.5" y="120.5"/><use href="#bug" x="215.3" y="120.5"/>
<use href="#blob" x="189" y="157.5"/>
<use href="#ya" x="129.5" y="226.4"/>
<use href="#bug2" transform="translate(82.5 333.8)"/>
<g fill="#4a4a4c"><use href="#blobp" transform="translate(143.4 335.2) scale(1.15)"/><circle cx="155.1" cy="329.1" r="2.7"/></g>
<use href="#bug2" transform="translate(199.9 333.9) scale(1.1)"/>
<use href="#ion2" x="68.1" y="345.6"/><use href="#ion2" x="130.4" y="345.6"/><use href="#ion2" x="185.7" y="345.3"/>
<!-- card 2 -->
<use href="#ion" x="319.5" y="121.6"/><use href="#ion" x="358.7" y="121.6"/><use href="#ion" x="336.2" y="155.2"/>
<use href="#bug" x="429.7" y="120.3"/><use href="#bug" x="480.6" y="120.3"/>
<use href="#blob" x="453.6" y="157.4"/>
<use href="#ya" x="394.4" y="225.7"/>
<use href="#bug2" transform="translate(405.3 331.3) scale(0.78)"/>
<use href="#bug2" transform="translate(375 362) scale(0.85)"/>
<g fill="#4d4d4f"><ellipse cx="411.6" cy="365" rx="9.5" ry="6.5"/><circle cx="423.5" cy="356.4" r="3"/></g>
<g fill="#3597df">
<circle cx="390.8" cy="340.5" r="11.7"/><circle cx="390.5" cy="361" r="11.2"/><path d="M381.5 347 L401 347 L401 355 L381.5 355 Z"/><circle cx="411.7" cy="351.1" r="11"/></g><path d="M380.3 348.5 L384.5 350.5 L380.3 352.5Z" fill="#1d4f7a"/>
<g fill="#effdff">
<rect x="-9.8" y="-1.2" width="19.6" height="2.4" transform="translate(391.9 341.5) rotate(11)"/>
<rect x="-9.2" y="-1.2" width="18.4" height="2.4" transform="translate(391.3 360.8) rotate(-10)"/>
<rect x="-9.2" y="-1.2" width="18.4" height="2.4" transform="translate(411.3 351.5) rotate(-20)"/></g>
<!-- card 3 -->
<use href="#ion" x="584.7" y="121.6"/><use href="#ion" x="623.7" y="121.6"/><use href="#ion" x="601.2" y="155.2"/>
<use href="#bug" x="694.7" y="120.3"/><use href="#bug" x="745.6" y="120.3"/>
<use href="#blob" x="718.6" y="157.4"/>
<use href="#ya" x="659.4" y="225.7"/>
<g fill="#c4c4c4" stroke="#c4c4c4"><use href="#bugp" transform="translate(604 340) scale(0.75)"/></g>
<g fill="#c8c8c8"><use href="#blobp" transform="translate(672 341)"/></g><circle cx="679" cy="337.3" r="2.5" fill="#9a9a9a"/>
<g fill="#b4b4b4" stroke="#b4b4b4"><use href="#bugp" transform="translate(734 341) scale(1.1)"/></g>
<use href="#co2" x="580" y="359.5"/><use href="#h2o" x="605.5" y="361"/>
<use href="#co2" x="651" y="362"/><use href="#h2o" x="675" y="358.5"/>
<use href="#co2" x="707.3" y="362.5"/><use href="#h2o" x="732" y="362"/>
<use href="#ion2" x="592" y="347.5"/><use href="#ion2" x="659.3" y="347.8"/><use href="#ion2" x="720" y="347.8"/>
</svg>
</body></html>
